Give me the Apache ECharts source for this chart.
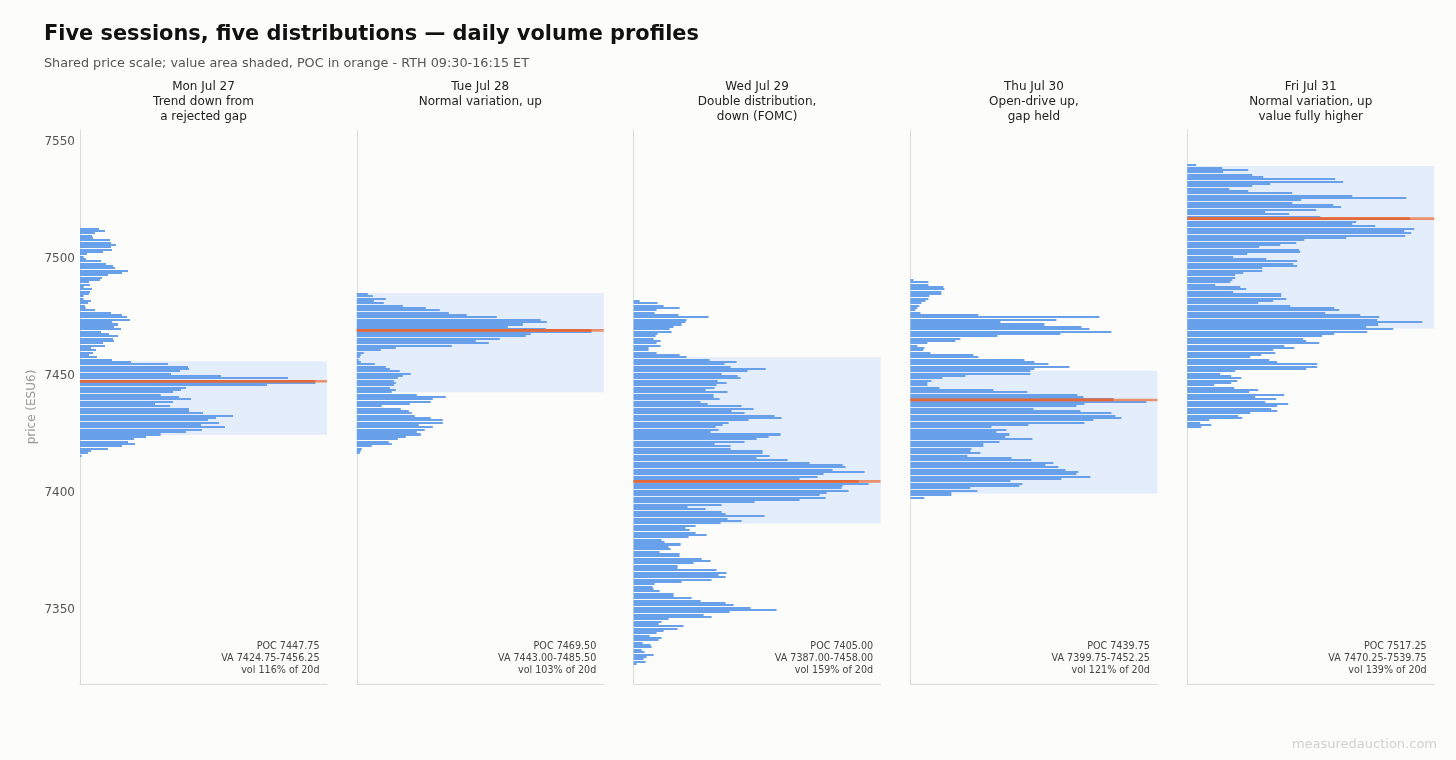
<!DOCTYPE html>
<html>
<head>
<meta charset="utf-8">
<title>Five sessions, five distributions</title>
<script src="https://cdn.jsdelivr.net/npm/echarts@6.0.0/dist/echarts.min.js"></script>
<style>
  html, body { margin: 0; padding: 0; background: #fcfcfa; }
  #chart { width: 1456px; height: 760px; }
</style>
</head>
<body>
<div id="chart"></div>
<script>
// volume per 1-point price bin, listed from the top price downwards
const monTop = 7513;
const monVol = [
  57, 75, 45, 37, 39, 90, 93, 108, 93, 96,
  69, 21, 11, 18, 63, 78, 99, 105, 144, 126,
  84, 66, 60, 27, 30, 11, 36, 30, 27, 11,
  11, 33, 24, 15, 17, 45, 93, 126, 141, 150,
  96, 114, 102, 123, 63, 87, 114, 99, 102, 69,
  75, 33, 48, 39, 27, 51, 96, 153, 264, 324,
  327, 300, 273, 423, 624, 648, 706, 561, 318, 303,
  279, 242, 297, 333, 279, 225, 270, 327, 327, 369,
  459, 408, 384, 417, 363, 435, 366, 318, 242, 198,
  162, 144, 165, 126, 84, 33, 24, 5
];

const tueTop = 7485;
const tueVol = [
  33, 48, 87, 51, 81, 138, 207, 249, 276, 330,
  420, 552, 570, 498, 453, 567, 704, 522, 507, 429,
  357, 396, 285, 117, 72,
  21, 12, 9, 6, 12, 54, 87, 99, 129, 162,
  138, 123, 111, 117, 111, 99, 117, 105, 180, 267,
  228, 222, 159, 75, 132, 156, 165, 174, 222, 258,
  258, 186, 228, 204, 180, 192, 147, 123, 96, 105,
  45, 15, 12, 9
];

const wedTop = 7482;
const wedVol = [
  18, 72, 90, 138, 69, 63, 135, 225, 159, 156,
  144, 120, 108, 114, 72, 66, 60, 81, 69, 81,
  45, 45, 69, 138, 159, 228, 309, 273, 291, 396,
  342, 264, 312, 321, 252, 279, 249, 243, 216, 282,
  240, 240, 258, 201, 222, 324, 360, 294, 333, 423,
  444, 345, 285, 267, 246, 255, 231, 441, 405, 369,
  333, 243, 291, 291, 387, 387, 408, 369, 462, 528,
  627, 636, 597, 693, 570, 552, 498,
  675,
  705, 627, 624, 645, 579, 558, 576, 498, 363, 264,
  162, 216, 264, 276, 393, 282, 324, 261,
  186, 156, 168, 186, 219, 165, 84, 93, 141, 105,
  111, 78, 138, 138, 204, 231, 180, 132, 132, 249,
  279, 255, 276, 234, 144, 63, 57, 60, 78, 120,
  120, 174, 201, 276, 300, 351, 429, 288, 210, 234,
  105, 84, 75, 150, 132, 90, 69, 48, 84, 75,
  27, 51, 54, 24, 33, 60, 39, 30, 36, 9
];

const thuTop = 7491;
const thuVol = [
  9, 54, 54, 99, 102, 93, 93, 57, 54, 45,
  33, 27, 21, 15, 30, 204, 567, 438, 270, 402,
  513, 537, 603, 450, 261, 150, 135, 51, 21, 42,
  39, 60, 189, 204, 342, 372, 414, 477, 372, 360,
  360, 165, 96, 63, 51, 51, 87, 249, 351, 501,
  519, 609, 708, 522, 498, 369, 510, 603, 615, 633,
  549, 522, 354, 243, 288, 258, 297, 285, 366, 267,
  219, 219, 183, 180, 210, 171, 303, 363, 429, 405,
  444, 465, 504, 498, 540, 453, 300, 336, 327, 180,
  201, 123, 123, 42
];

const friTop = 7540;
const friVol = [
  27, 105, 183, 108, 195, 228, 444, 468, 249, 195,
  126, 183, 315, 495, 657, 342, 315, 438, 462, 387,
  234, 306, 399, 669, 507, 495, 564, 681, 651, 672,
  654, 477, 351, 327, 279, 216, 336, 339, 180, 138,
  237, 330, 318, 330, 225, 225, 168, 144, 144, 135,
  129, 84, 159, 177, 138, 282, 282, 297,
  258, 213, 309, 441, 456, 414, 519, 576, 570, 705,
  573, 537, 618, 540, 441, 405, 348, 357, 396, 291,
  321, 258, 264, 222, 189, 246, 270, 390, 390, 357,
  144, 99, 132, 162, 150, 132, 81, 141, 213, 186,
  291, 204, 267, 234, 303, 270, 252, 270, 189, 153,
  165, 66, 39, 72, 42
];

const dayTitles = [
  'Mon Jul 27\nTrend down from\na rejected gap',
  'Tue Jul 28\nNormal variation, up',
  'Wed Jul 29\nDouble distribution,\ndown (FOMC)',
  'Thu Jul 30\nOpen-drive up,\ngap held',
  'Fri Jul 31\nNormal variation, up\nvalue fully higher'
];
const pocPrice = [7447.75, 7469.50, 7405.00, 7439.75, 7517.25];
const pocVol = [706, 704, 675, 609, 669];
const vaLow = [7424.75, 7443.00, 7387.00, 7399.75, 7470.25];
const vaHigh = [7456.25, 7485.50, 7458.00, 7452.25, 7539.75];
const volPct = [116, 103, 159, 121, 139];
const priceTicks = [7350, 7400, 7450, 7500, 7550];

const tops = [monTop, tueTop, wedTop, thuTop, friTop];
const vols = [monVol, tueVol, wedVol, thuVol, friVol];

const BAR = '#68a1e9';
const VA_FILL = '#e3edfb';
const POC_DARK = '#e3683b';
const POC_LINE = 'rgba(234,116,70,0.78)';
const AXIS = '#dcdcd5';
const FONT = 'DejaVu Sans';
const VOL_MAX = 741;
const P_MIN = 7318.4;
const P_MAX = 7555.1;

const GRID_LEFT = 80;
const GRID_STEP = 276.8;
const GRID_W = 247;
const GRID_TOP = 130;
const GRID_H = 554;

// bars snapped to whole pixels, like the reference raster
function barItem(params, api) {
  const v = api.value(0);
  const p = api.value(1);
  const a = api.coord([0, p + 0.43]);
  const b = api.coord([v, p - 0.43]);
  const y0 = Math.round(a[1]);
  const y1 = Math.round(b[1]);
  return {
    type: 'rect',
    shape: { x: a[0], y: y0, width: b[0] - a[0], height: Math.max(1, y1 - y0) },
    style: { fill: BAR }
  };
}

function vaItem(params, api) {
  const a = api.coord([0, api.value(1)]);
  const b = api.coord([VOL_MAX, api.value(0)]);
  return {
    type: 'rect',
    shape: { x: a[0], y: a[1], width: b[0] - a[0], height: b[1] - a[1] },
    style: { fill: VA_FILL }
  };
}

function pocItem(params, api) {
  const v = api.value(0);
  const p = api.value(1);
  const l0 = api.coord([0, p]);
  const l1 = api.coord([VOL_MAX, p]);
  const a = api.coord([0, p + 0.58]);
  const b = api.coord([v, p - 0.58]);
  return {
    type: 'group',
    children: [
      {
        type: 'line',
        shape: { x1: l0[0], y1: l0[1], x2: l1[0], y2: l1[1] },
        style: { stroke: POC_LINE, lineWidth: 2.7 }
      },
      {
        type: 'rect',
        shape: { x: a[0], y: a[1], width: b[0] - a[0], height: b[1] - a[1] },
        style: { fill: POC_DARK }
      }
    ]
  };
}

const grids = [];
const xAxes = [];
const yAxes = [];
const series = [];
const titles = [
  {
    text: 'Five sessions, five distributions \u2014 daily volume profiles',
    left: 44, top: 24, padding: 0,
    textStyle: { fontFamily: FONT, fontSize: 20.9, fontWeight: 'bold', color: '#111' }
  },
  {
    text: 'Shared price scale; value area shaded, POC in orange - RTH 09:30-16:15 ET',
    left: 44, top: 57, padding: 0,
    textStyle: { fontFamily: FONT, fontSize: 12.8, fontWeight: 'normal', color: '#555' }
  },
  {
    text: 'measuredauction.com',
    right: 19, top: 738, padding: 0,
    textStyle: { fontFamily: FONT, fontSize: 13, fontWeight: 'normal', color: '#d0d0ce' }
  }
];

for (let i = 0; i < 5; i++) {
  const left = GRID_LEFT + i * GRID_STEP;
  grids.push({ left: left, top: GRID_TOP, width: GRID_W, height: GRID_H });

  xAxes.push({
    gridIndex: i, type: 'value', min: 0, max: VOL_MAX,
    axisLine: { show: true, lineStyle: { color: AXIS, width: 1 } },
    axisTick: { show: false }, axisLabel: { show: false }, splitLine: { show: false }
  });

  yAxes.push({
    gridIndex: i, type: 'value', min: P_MIN, max: P_MAX,
    name: i === 0 ? 'price (ESU6)' : '',
    nameLocation: 'middle', nameGap: 42,
    nameTextStyle: { fontFamily: FONT, fontSize: 12, color: '#999' },
    axisLine: { show: true, lineStyle: { color: AXIS, width: 1 } },
    axisTick: { show: false },
    splitLine: { show: false },
    axisLabel: {
      show: i === 0, customValues: priceTicks, margin: 5,
      formatter: (v) => String(Math.round(v)),
      fontFamily: FONT, fontSize: 12, color: '#555'
    }
  });

  const rows = vols[i].map((v, k) => [v, tops[i] - k]);

  series.push({
    type: 'custom', xAxisIndex: i, yAxisIndex: i, z: 1, silent: true,
    renderItem: vaItem, encode: { y: [0, 1] },
    data: [[vaLow[i], vaHigh[i]]]
  });
  series.push({
    type: 'custom', xAxisIndex: i, yAxisIndex: i, z: 2, silent: true,
    renderItem: barItem, encode: { x: 0, y: 1 },
    data: rows
  });
  series.push({
    type: 'custom', xAxisIndex: i, yAxisIndex: i, z: 3, silent: true,
    renderItem: pocItem, encode: { x: 0, y: 1 },
    data: [[pocVol[i], pocPrice[i]]]
  });

  titles.push({
    text: dayTitles[i],
    left: left + GRID_W / 2, top: 79, padding: 0, textAlign: 'center',
    textStyle: { fontFamily: FONT, fontSize: 12, fontWeight: 'normal', color: '#222', lineHeight: 15.3 }
  });
  titles.push({
    text: 'POC ' + pocPrice[i].toFixed(2) + '\nVA ' + vaLow[i].toFixed(2) + '-' + vaHigh[i].toFixed(2) +
      '\nvol ' + volPct[i] + '% of 20d',
    left: left + GRID_W - 7.5, top: 640, padding: 0, textAlign: 'right',
    textStyle: { fontFamily: FONT, fontSize: 9.6, fontWeight: 'normal', color: '#444', lineHeight: 12.2 }
  });
}

const chart = echarts.init(document.getElementById('chart'), null, { renderer: 'canvas' });
chart.setOption({
  backgroundColor: '#fcfcfa',
  animation: false,
  title: titles,
  grid: grids,
  xAxis: xAxes,
  yAxis: yAxes,
  series: series
});
</script>
</body>
</html>
